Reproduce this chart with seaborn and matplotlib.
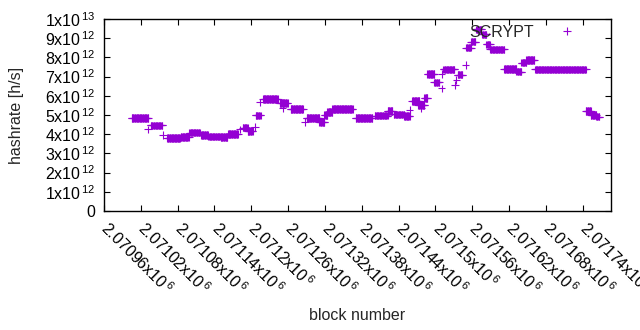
import numpy as np
import pandas as pd
import matplotlib
matplotlib.use('Agg')
import matplotlib.pyplot as plt
import seaborn as sns
from matplotlib.ticker import FuncFormatter, MultipleLocator

# runs of blocks with the same hashrate estimate (first block, last block, hashrate in 1e12 h/s)
run_start = [2071005, 2071036, 2071063, 2071085, 2071099, 2071118, 2071130, 2071150,
             2071162, 2071186, 2071194, 2071207, 2071219, 2071246, 2071264, 2071290,
             2071311, 2071319, 2071324, 2071332, 2071370, 2071401, 2071422, 2071432,
             2071449, 2071462, 2071472, 2071482, 2071487, 2071498, 2071513, 2071536,
             2071550, 2071558, 2071566, 2071576, 2071583, 2071589, 2071612, 2071632,
             2071640, 2071648, 2071662, 2071745, 2071753, 2071762]
run_end = [2071032, 2071055, 2071084, 2071098, 2071116, 2071129, 2071149, 2071161,
           2071178, 2071194, 2071202, 2071215, 2071243, 2071259, 2071284, 2071311,
           2071319, 2071324, 2071332, 2071365, 2071397, 2071422, 2071430, 2071449,
           2071458, 2071474, 2071482, 2071487, 2071498, 2071506, 2071531, 2071544,
           2071558, 2071565, 2071575, 2071583, 2071589, 2071612, 2071632, 2071640,
           2071648, 2071661, 2071745, 2071753, 2071762, 2071767]
run_rate = [4.83, 4.46, 3.79, 3.84, 4.08, 3.96, 3.88, 3.85,
            4.01, 4.34, 4.18, 4.98, 5.82, 5.61, 5.30, 4.83,
            4.65, 5.00, 5.17, 5.30, 4.83, 4.97, 5.21, 5.03,
            4.95, 5.73, 5.52, 5.89, 7.14, 6.70, 7.38, 7.10,
            8.51, 8.82, 9.46, 9.20, 8.68, 8.42, 7.40, 7.26,
            7.73, 7.86, 7.38, 5.21, 5.00, 4.92]

# single blocks that stand apart from their run
odd_block = [2071032, 2071056, 2071181, 2071206, 2071214, 2071251, 2071287, 2071458,
             2071477, 2071510, 2071510, 2071532, 2071534, 2071549]
odd_rate = [4.25, 3.96, 4.25, 4.39, 5.66, 5.35, 4.65, 5.26,
            5.35, 6.39, 7.14, 6.56, 6.82, 7.60]

blocks = np.concatenate([np.arange(s, e + 1) for s, e in zip(run_start, run_end)] + [odd_block])
rates = np.concatenate([np.repeat(r, e - s + 1) for s, e, r in zip(run_start, run_end, run_rate)] + [odd_rate])
df = pd.DataFrame({'block': blocks, 'hashrate': rates * 1e12, 'algo': 'SCRYPT'})

sns.set_style('ticks')
plt.rcParams['font.family'] = ['Liberation Sans', 'DejaVu Sans']
plt.rcParams['mathtext.fontset'] = 'custom'
plt.rcParams['mathtext.rm'] = 'Liberation Sans'
plt.rcParams['mathtext.it'] = 'Liberation Sans'

fig = plt.figure(figsize=(6.4, 3.3), dpi=100)
ax = fig.add_axes([104 / 640, 1 - 211 / 330, 507 / 640, 192 / 330])

sns.scatterplot(data=df, x='block', y='hashrate', hue='algo', palette=['#9400D3'],
                marker='+', s=30, linewidth=0.8, ax=ax)

ax.set_xlim(2070960, 2071786)
ax.set_ylim(0, 1e13)
ax.xaxis.set_major_locator(MultipleLocator(60))
ax.yaxis.set_major_locator(MultipleLocator(1e12))


def xfmt(v, pos):
    return f'{v / 1e6:g}x10$^{{\\,6}}$'


def yfmt(v, pos):
    if abs(v) < 1:
        return '0'
    if v < 0:
        return ''
    e = int(np.floor(np.log10(v) + 1e-9))
    m = v / 10 ** e
    return f'{m:.0f}x10$^{{\\,{e}}}$'


ax.xaxis.set_major_formatter(FuncFormatter(xfmt))
ax.yaxis.set_major_formatter(FuncFormatter(yfmt))
ax.tick_params(direction='in', length=4, width=0.8, top=True, right=True,
               labelsize=11.5, colors='black')
ax.tick_params(axis='y', pad=6)
ax.tick_params(axis='x', pad=10)
for lab in ax.get_xticklabels():
    lab.set_rotation(-45)
    lab.set_ha('left')
    lab.set_va('center')
    lab.set_rotation_mode('anchor')
for sp in ax.spines.values():
    sp.set_visible(True)
    sp.set_linewidth(1)
    sp.set_color('black')

ax.set_xlabel('block number', fontsize=11.5, labelpad=8)
ax.set_ylabel('hashrate [h/s]', fontsize=11.5, labelpad=15)

ax.legend(title=None, frameon=False, markerfirst=False, loc='upper right',
          bbox_to_anchor=(0.983, 1.045), fontsize=11.5, handlelength=2.6, handletextpad=0.8,
          markerscale=1.0)

fig.savefig('out.png', dpi=100)
